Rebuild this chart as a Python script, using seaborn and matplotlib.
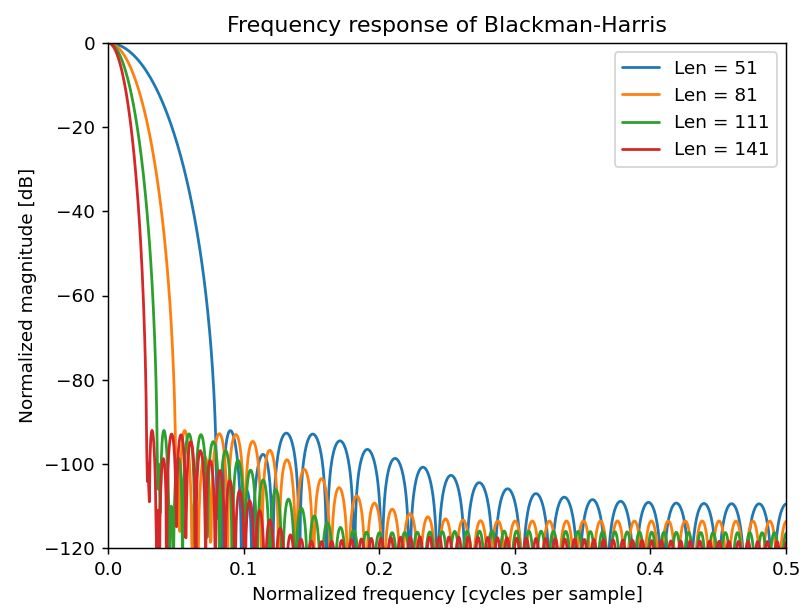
import numpy as np
import pandas as pd
import matplotlib
matplotlib.use("Agg")
import matplotlib.pyplot as plt
import seaborn as sns

# Window lengths shown in the legend
lengths = [51, 81, 111, 141]
# Blackman-Harris coefficients
bh_coeffs = [0.35875, 0.48829, 0.14128, 0.01168]
nfft = 2048
colors = ["#1f77b4", "#ff7f0e", "#2ca02c", "#d62728"]

frames = []
for M in lengths:
    n = np.arange(M)
    fac = 2 * np.pi * n / (M - 1)
    w = (bh_coeffs[0] - bh_coeffs[1] * np.cos(fac)
         + bh_coeffs[2] * np.cos(2 * fac) - bh_coeffs[3] * np.cos(3 * fac))
    A = np.fft.fft(w, nfft) / (M / 2.0)
    mag = np.abs(A / np.abs(A).max())
    resp = 20 * np.log10(np.maximum(np.fft.fftshift(mag), 1e-12))
    freq = np.linspace(-0.5, 0.5, nfft)
    frames.append(pd.DataFrame({"freq": freq, "resp": resp,
                                "label": f"Len = {M}"}))
df = pd.concat(frames, ignore_index=True)

sns.set_style("ticks", {"text.color": "black", "axes.labelcolor": "black",
                        "xtick.color": "black", "ytick.color": "black",
                        "axes.edgecolor": "black"})
plt.rcParams["font.family"] = ["DejaVu Sans"]
dpi = 133
fig, ax = plt.subplots(figsize=(803 / dpi, 608 / dpi), dpi=dpi)
fig.subplots_adjust(left=108 / 803, right=786 / 803, top=1 - 43 / 608,
                    bottom=1 - 548 / 608)
sns.lineplot(data=df, x="freq", y="resp", hue="label", palette=colors,
             estimator=None, sort=False, ax=ax, linewidth=1.5)
ax.set_xlim(0, 0.5)
ax.set_ylim(-120, 0)
ax.set_title("Frequency response of Blackman-Harris")
ax.set_xlabel("Normalized frequency [cycles per sample]")
ax.set_ylabel("Normalized magnitude [dB]")
ax.legend(title=None, loc="upper right")
for s in ax.spines.values():
    s.set_visible(True)
    s.set_linewidth(0.8)
fig.savefig("out.png", dpi=dpi)
